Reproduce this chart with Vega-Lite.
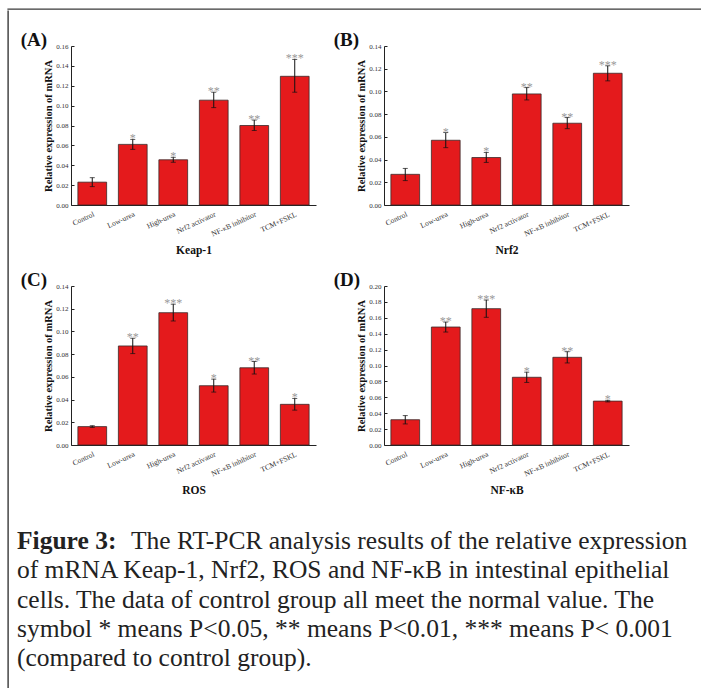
{
  "$schema": "https://vega.github.io/schema/vega-lite/v6.json",
  "padding": {"left": 7, "top": 8, "right": 0, "bottom": 0},
  "background": "white",
  "config": {
    "view": {"stroke": null},
    "font": "Liberation Serif",
    "axis": {"grid": false, "domainColor": "#222", "tickColor": "#222", "labelFont": "Liberation Serif", "labelColor": "#333", "labelFontSize": 7, "titleFont": "Liberation Serif", "titleFontWeight": "bold", "titleColor": "#111"},
    "axisX": {"labelAngle": -25, "labelAlign": "right", "labelBaseline": "top", "labelPadding": 5, "labelFontSize": 7.5, "ticks": false, "titlePadding": 7, "titleFontSize": 11.5},
    "axisY": {"tickSize": -3, "labelPadding": 6, "titlePadding": 2, "titleFontSize": 10.5, "format": ".2f", "labelOverlap": false},
    "axisQuantitative": {"labelOverlap": false},
    "title": {"font": "Liberation Serif", "fontSize": 19, "fontWeight": "bold", "color": "#111", "anchor": "start", "frame": "bounds", "offset": -8, "dx": -23}
  },
  "datasets": {
    "keap1": [
      {"group": "Control", "value": 0.023, "lo": 0.0185, "hi": 0.0275, "sig": ""},
      {"group": "Low-urea", "value": 0.061, "lo": 0.056, "hi": 0.066, "sig": "*"},
      {"group": "High-urea", "value": 0.0455, "lo": 0.043, "hi": 0.048, "sig": "*"},
      {"group": "Nrf2 activator", "value": 0.1055, "lo": 0.098, "hi": 0.1135, "sig": "**"},
      {"group": "NF-κB inhibitor", "value": 0.08, "lo": 0.075, "hi": 0.0855, "sig": "**"},
      {"group": "TCM+FSKL", "value": 0.1295, "lo": 0.1135, "hi": 0.1465, "sig": "***"}
    ],
    "nrf2": [
      {"group": "Control", "value": 0.027, "lo": 0.0215, "hi": 0.0322, "sig": ""},
      {"group": "Low-urea", "value": 0.057, "lo": 0.0505, "hi": 0.0638, "sig": "*"},
      {"group": "High-urea", "value": 0.0418, "lo": 0.0375, "hi": 0.0463, "sig": "*"},
      {"group": "Nrf2 activator", "value": 0.0978, "lo": 0.0925, "hi": 0.1034, "sig": "**"},
      {"group": "NF-κB inhibitor", "value": 0.072, "lo": 0.0672, "hi": 0.077, "sig": "**"},
      {"group": "TCM+FSKL", "value": 0.116, "lo": 0.1093, "hi": 0.1226, "sig": "***"}
    ],
    "ros": [
      {"group": "Control", "value": 0.0162, "lo": 0.0155, "hi": 0.017, "sig": ""},
      {"group": "Low-urea", "value": 0.0872, "lo": 0.0805, "hi": 0.094, "sig": "**"},
      {"group": "High-urea", "value": 0.1165, "lo": 0.1092, "hi": 0.124, "sig": "***"},
      {"group": "Nrf2 activator", "value": 0.0522, "lo": 0.0466, "hi": 0.058, "sig": "*"},
      {"group": "NF-κB inhibitor", "value": 0.068, "lo": 0.0625, "hi": 0.0735, "sig": "**"},
      {"group": "TCM+FSKL", "value": 0.0358, "lo": 0.0307, "hi": 0.041, "sig": "*"}
    ],
    "nfkb": [
      {"group": "Control", "value": 0.0318, "lo": 0.0265, "hi": 0.037, "sig": ""},
      {"group": "Low-urea", "value": 0.1484, "lo": 0.1421, "hi": 0.1547, "sig": "**"},
      {"group": "High-urea", "value": 0.1715, "lo": 0.1606, "hi": 0.1824, "sig": "***"},
      {"group": "Nrf2 activator", "value": 0.0852, "lo": 0.0787, "hi": 0.0916, "sig": "*"},
      {"group": "NF-κB inhibitor", "value": 0.1103, "lo": 0.1032, "hi": 0.1174, "sig": "**"},
      {"group": "TCM+FSKL", "value": 0.0552, "lo": 0.0542, "hi": 0.0562, "sig": "*"}
    ],
    "caption": [
      {"line": 1, "part": "label", "text": "Figure 3:"},
      {"line": 1, "part": "first", "text": "The RT-PCR analysis results of the relative expression"},
      {"line": 2, "part": "body", "text": "of mRNA Keap-1, Nrf2, ROS and NF-κB in intestinal epithelial"},
      {"line": 3, "part": "body", "text": "cells. The data of control group all meet the normal value. The"},
      {"line": 4, "part": "body", "text": "symbol * means P<0.05, ** means P<0.01, *** means P< 0.001"},
      {"line": 5, "part": "body", "text": "(compared to control group)."}
    ]
  },
  "spacing": 0,
  "vconcat": [
    {
      "width": 694, "height": 0.01,
      "view": {"stroke": "#3a3a3a", "strokeWidth": 1.4},
      "data": {"values": [{}]},
      "mark": {"type": "text", "fontSize": 0.01},
      "encoding": {"text": {"value": ""}}
    },
    {
      "spacing": 8,
      "hconcat": [
        {
          "width": 0.01, "height": 700,
          "view": {"stroke": "#3a3a3a", "strokeWidth": 1.4},
          "data": {"values": [{}]},
          "mark": {"type": "text", "fontSize": 0.01},
          "encoding": {"text": {"value": ""}}
        },
        {
          "spacing": 15,
          "vconcat": [
            {
              "width": 0.01, "height": 5,
              "data": {"values": [{}]},
              "mark": {"type": "text", "fontSize": 0.01},
              "encoding": {"text": {"value": ""}}
            },
            {
              "spacing": 17,
              "hconcat": [
                {
                  "width": 245, "height": 159,
                  "data": {"name": "keap1"},
                  "title": {"text": "(A)"},
                  "encoding": {"x": {"field": "group", "type": "nominal", "sort": null, "scale": {"paddingInner": 0.29, "paddingOuter": 0.17}, "axis": {"title": "Keap-1"}}},
                  "layer": [
                    {"mark": {"type": "bar", "fill": "#e41a1c", "stroke": "#3a2a2a", "strokeWidth": 0.8},
                     "encoding": {"y": {"field": "value", "type": "quantitative", "scale": {"domain": [0, 0.16], "nice": false}, "axis": {"title": "Relative expression of mRNA", "values": [0, 0.02, 0.04, 0.06, 0.08, 0.1, 0.12, 0.14, 0.16], "labelOverlap": false}}}},
                    {"mark": {"type": "errorbar", "color": "#111", "ticks": {"size": 5}, "thickness": 1},
                     "encoding": {"y": {"field": "lo", "type": "quantitative", "axis": {"title": "Relative expression of mRNA", "values": [0, 0.02, 0.04, 0.06, 0.08, 0.1, 0.12, 0.14, 0.16], "labelOverlap": false}}, "y2": {"field": "hi"}}},
                    {"mark": {"type": "text", "fontSize": 12, "color": "#999", "baseline": "alphabetic", "dy": 3},
                     "encoding": {"y": {"field": "hi", "type": "quantitative", "axis": {"title": "Relative expression of mRNA", "values": [0, 0.02, 0.04, 0.06, 0.08, 0.1, 0.12, 0.14, 0.16], "labelOverlap": false}}, "text": {"field": "sig"}}}
                  ]
                },
                {
                  "width": 245, "height": 159,
                  "data": {"name": "nrf2"},
                  "title": {"text": "(B)"},
                  "encoding": {"x": {"field": "group", "type": "nominal", "sort": null, "scale": {"paddingInner": 0.29, "paddingOuter": 0.17}, "axis": {"title": "Nrf2"}}},
                  "layer": [
                    {"mark": {"type": "bar", "fill": "#e41a1c", "stroke": "#3a2a2a", "strokeWidth": 0.8},
                     "encoding": {"y": {"field": "value", "type": "quantitative", "scale": {"domain": [0, 0.14], "nice": false}, "axis": {"title": "Relative expression of mRNA", "values": [0, 0.02, 0.04, 0.06, 0.08, 0.1, 0.12, 0.14], "labelOverlap": false}}}},
                    {"mark": {"type": "errorbar", "color": "#111", "ticks": {"size": 5}, "thickness": 1},
                     "encoding": {"y": {"field": "lo", "type": "quantitative", "axis": {"title": "Relative expression of mRNA", "values": [0, 0.02, 0.04, 0.06, 0.08, 0.1, 0.12, 0.14], "labelOverlap": false}}, "y2": {"field": "hi"}}},
                    {"mark": {"type": "text", "fontSize": 12, "color": "#999", "baseline": "alphabetic", "dy": 3},
                     "encoding": {"y": {"field": "hi", "type": "quantitative", "axis": {"title": "Relative expression of mRNA", "values": [0, 0.02, 0.04, 0.06, 0.08, 0.1, 0.12, 0.14], "labelOverlap": false}}, "text": {"field": "sig"}}}
                  ]
                }
              ]
            },
            {
              "spacing": 17,
              "hconcat": [
                {
                  "width": 245, "height": 159,
                  "data": {"name": "ros"},
                  "title": {"text": "(C)"},
                  "encoding": {"x": {"field": "group", "type": "nominal", "sort": null, "scale": {"paddingInner": 0.29, "paddingOuter": 0.17}, "axis": {"title": "ROS"}}},
                  "layer": [
                    {"mark": {"type": "bar", "fill": "#e41a1c", "stroke": "#3a2a2a", "strokeWidth": 0.8},
                     "encoding": {"y": {"field": "value", "type": "quantitative", "scale": {"domain": [0, 0.14], "nice": false}, "axis": {"title": "Relative expression of mRNA", "values": [0, 0.02, 0.04, 0.06, 0.08, 0.1, 0.12, 0.14], "labelOverlap": false}}}},
                    {"mark": {"type": "errorbar", "color": "#111", "ticks": {"size": 5}, "thickness": 1},
                     "encoding": {"y": {"field": "lo", "type": "quantitative", "axis": {"title": "Relative expression of mRNA", "values": [0, 0.02, 0.04, 0.06, 0.08, 0.1, 0.12, 0.14], "labelOverlap": false}}, "y2": {"field": "hi"}}},
                    {"mark": {"type": "text", "fontSize": 12, "color": "#999", "baseline": "alphabetic", "dy": 3},
                     "encoding": {"y": {"field": "hi", "type": "quantitative", "axis": {"title": "Relative expression of mRNA", "values": [0, 0.02, 0.04, 0.06, 0.08, 0.1, 0.12, 0.14], "labelOverlap": false}}, "text": {"field": "sig"}}}
                  ]
                },
                {
                  "width": 245, "height": 159,
                  "data": {"name": "nfkb"},
                  "title": {"text": "(D)"},
                  "encoding": {"x": {"field": "group", "type": "nominal", "sort": null, "scale": {"paddingInner": 0.29, "paddingOuter": 0.17}, "axis": {"title": "NF-κB"}}},
                  "layer": [
                    {"mark": {"type": "bar", "fill": "#e41a1c", "stroke": "#3a2a2a", "strokeWidth": 0.8},
                     "encoding": {"y": {"field": "value", "type": "quantitative", "scale": {"domain": [0, 0.2], "nice": false}, "axis": {"title": "Relative expression of mRNA", "values": [0, 0.02, 0.04, 0.06, 0.08, 0.1, 0.12, 0.14, 0.16, 0.18, 0.2], "labelOverlap": false}}}},
                    {"mark": {"type": "errorbar", "color": "#111", "ticks": {"size": 5}, "thickness": 1},
                     "encoding": {"y": {"field": "lo", "type": "quantitative", "axis": {"title": "Relative expression of mRNA", "values": [0, 0.02, 0.04, 0.06, 0.08, 0.1, 0.12, 0.14, 0.16, 0.18, 0.2], "labelOverlap": false}}, "y2": {"field": "hi"}}},
                    {"mark": {"type": "text", "fontSize": 12, "color": "#999", "baseline": "alphabetic", "dy": 3},
                     "encoding": {"y": {"field": "hi", "type": "quantitative", "axis": {"title": "Relative expression of mRNA", "values": [0, 0.02, 0.04, 0.06, 0.08, 0.1, 0.12, 0.14, 0.16, 0.18, 0.2], "labelOverlap": false}}, "text": {"field": "sig"}}}
                  ]
                }
              ]
            },
            {
              "width": 620, "height": 199.2,
              "data": {"name": "caption"},
              "encoding": {"y": {"field": "line", "type": "quantitative", "scale": {"domain": [-0.3, 6.5], "reverse": true, "nice": false, "zero": false}, "axis": null}, "x": {"value": 0}, "text": {"field": "text"}},
              "layer": [
                {"transform": [{"filter": "datum.part === 'label'"}], "mark": {"type": "text", "align": "left", "baseline": "alphabetic", "fontSize": 25.5, "fontWeight": "bold", "color": "#222", "dx": -54}},
                {"transform": [{"filter": "datum.part === 'first'"}], "mark": {"type": "text", "align": "left", "baseline": "alphabetic", "fontSize": 25.5, "color": "#222", "dx": 60}},
                {"transform": [{"filter": "datum.part === 'body'"}], "mark": {"type": "text", "align": "left", "baseline": "alphabetic", "fontSize": 25.5, "color": "#222", "dx": -54}}
              ]
            }
          ]
        }
      ]
    }
  ]
}
